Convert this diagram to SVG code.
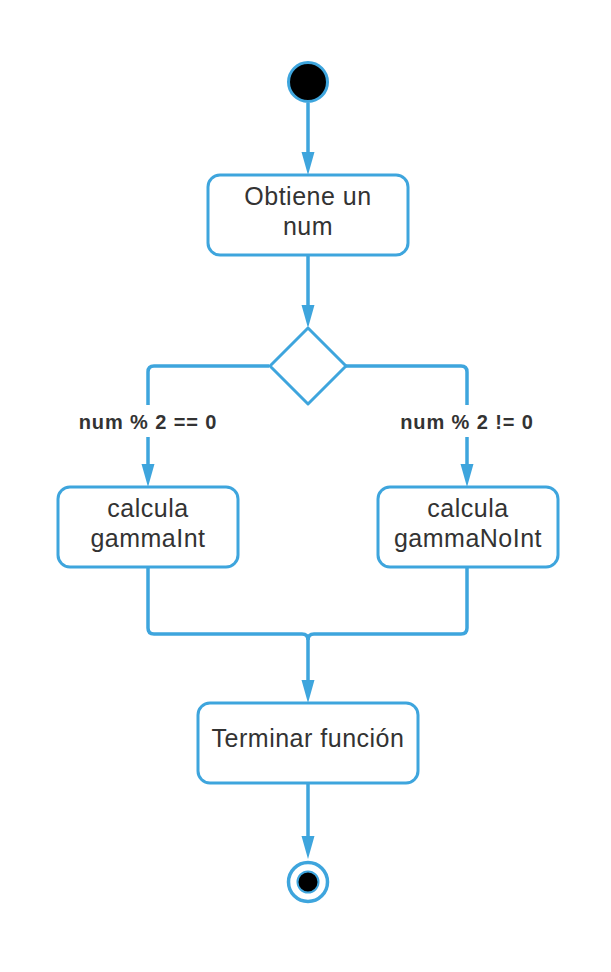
<svg xmlns="http://www.w3.org/2000/svg" width="611" height="972" viewBox="0 0 611 972">
<style>
.box{fill:#fff;stroke:#3ea5dd;stroke-width:3}
.conn{fill:none;stroke:#3ea5dd;stroke-width:3.5}
.t{font-family:"Liberation Sans",Arial,sans-serif;font-size:25px;letter-spacing:0.5px;fill:#333;text-anchor:middle}
.lbl{font-family:"Liberation Sans",Arial,sans-serif;font-size:20px;letter-spacing:0.9px;font-weight:bold;fill:#333;text-anchor:middle}
</style>
<defs>
<marker id="arr" markerUnits="userSpaceOnUse" markerWidth="24" markerHeight="14" refX="2" refY="7" orient="auto">
<path d="M0,0.5 L23,7 L0,13.5 z" fill="#3ea5dd"/>
</marker>
</defs>
<rect width="611" height="972" fill="#fff"/>
<g id="connectors">
<path class="conn" d="M308 103 V154" marker-end="url(#arr)"/>
<path class="conn" d="M308 255 V307" marker-end="url(#arr)"/>
<path class="conn" d="M269 366 H154 Q148 366 148 372 V466" marker-end="url(#arr)"/>
<path class="conn" d="M346 366 H461 Q467 366 467 372 V466" marker-end="url(#arr)"/>
<rect x="70" y="405" width="160" height="32" fill="#fff"/>
<rect x="390" y="405" width="155" height="32" fill="#fff"/>
<text class="lbl" x="148" y="429">num % 2 == 0</text>
<text class="lbl" x="467" y="429">num % 2 != 0</text>
<path class="conn" d="M148 567 V628 Q148 634 154 634 H302 Q308 634 308 640 V682" marker-end="url(#arr)"/>
<path class="conn" d="M467 567 V628 Q467 634 461 634 H314 Q308 634 308 640"/>
<path class="conn" d="M308 783 V838" marker-end="url(#arr)"/>
</g>
<g id="start">
<circle cx="308" cy="82" r="19.5" fill="#000" stroke="#3ea5dd" stroke-width="3"/>
</g>
<g id="obtiene">
<rect class="box" x="208" y="175" width="200" height="80" rx="12"/>
<text class="t" x="308" y="205">Obtiene un</text>
<text class="t" x="308" y="235">num</text>
</g>
<g id="decision">
<path class="box" d="M308 328 L346 366 L308 404 L270 366 Z" stroke-linejoin="round"/>
</g>
<g id="gammaInt">
<rect class="box" x="58" y="487" width="180" height="80" rx="12"/>
<text class="t" x="148" y="517">calcula</text>
<text class="t" x="148" y="547">gammaInt</text>
</g>
<g id="gammaNoInt">
<rect class="box" x="378" y="487" width="180" height="80" rx="12"/>
<text class="t" x="468" y="517">calcula</text>
<text class="t" x="468" y="547">gammaNoInt</text>
</g>
<g id="terminar">
<rect class="box" x="198" y="703" width="220" height="80" rx="12"/>
<text class="t" x="308" y="747">Terminar función</text>
</g>
<g id="end">
<circle cx="308" cy="882" r="19.5" fill="#fff" stroke="#3ea5dd" stroke-width="3.5"/>
<circle cx="308" cy="882" r="10.5" fill="#000" stroke="#3ea5dd" stroke-width="2"/>
</g>
</svg>
